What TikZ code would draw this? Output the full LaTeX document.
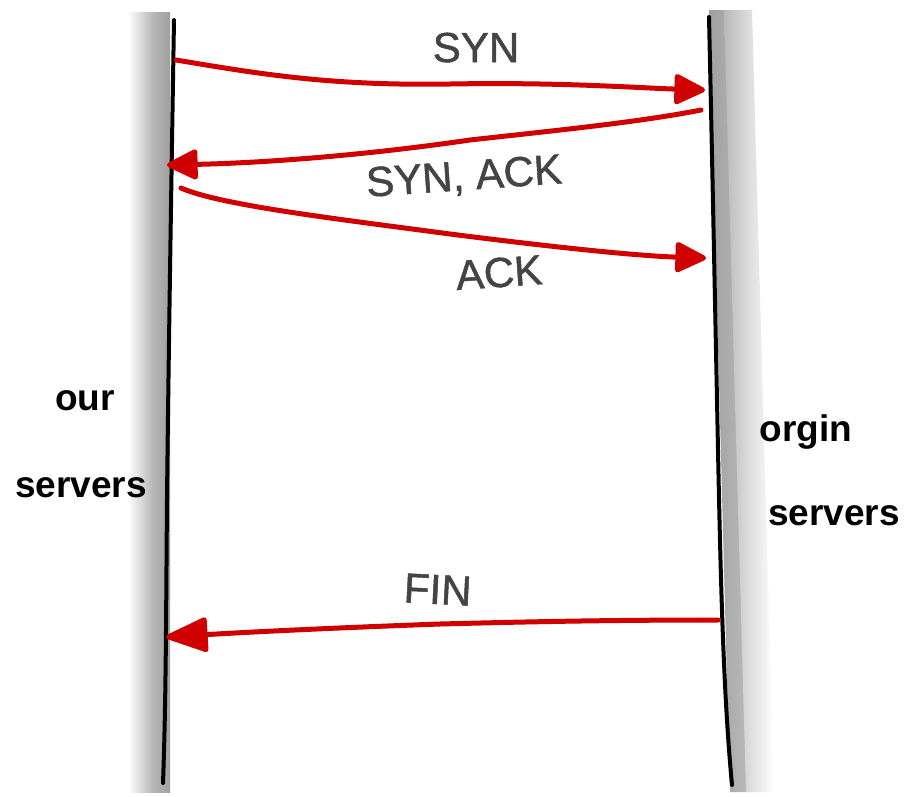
\documentclass[tikz,border=0pt]{standalone}
\usepackage{fontspec}
\setmainfont{Liberation Sans}
\usetikzlibrary{arrows.meta}
\definecolor{msgred}{HTML}{D00000}
\definecolor{lblgray}{HTML}{444444}
\tikzset{
  lifeline/.style={line width=4pt, black, line cap=round, line join=round},
  msg/.style={line width=5pt, msgred, line cap=round,
    -{Triangle[length=34pt,width=32pt,round]}},
  bigtip/.style={-{Triangle[length=46pt,width=36pt,round]}},
  msglbl/.style={text=lblgray, font=\fontsize{42}{42}\selectfont\addfontfeature{FakeBold=1.2}, anchor=base, inner sep=0pt},
  sidelbl/.style={text=black, font=\fontsize{37}{37}\selectfont\bfseries, anchor=base, inner sep=0pt}
}
\begin{document}
\begin{tikzpicture}[x=1pt,y=-1pt]
\useasboundingbox (0,0) rectangle (916,796);
\fill[white] (0,0) rectangle (916,796);
% shadows of the lifelines
\shade[left color=white, right color=gray!55] (128,12) rectangle (152,792);
\shade[left color=gray!55, right color=gray!75] (152,12) rectangle (170,792);
\shade[left color=gray!75, right color=gray!55] (709,10) -- (726,10) -- (748,792) -- (730,792) -- cycle;
\shade[left color=gray!55, right color=white] (724,10) -- (752,10) -- (774,792) -- (746,792) -- cycle;
% lifelines
\coordinate (Ltop) at (174,20);
\coordinate (Lbot) at (163,783);
\coordinate (Rtop) at (709,17);
\coordinate (Rbot) at (732,785);
\draw[lifeline] (Ltop) .. controls (171,200) and (168,400) .. (167,500) .. controls (166,620) and (166,700) .. (Lbot);
\draw[lifeline] (Rtop) .. controls (712,150) and (716,350) .. (718,450) .. controls (721,600) and (724,700) .. (Rbot);
% message endpoints
\coordinate (s1) at (176,60);
\coordinate (e1) at (705,90);
\coordinate (s2) at (701,110);
\coordinate (e2) at (167,165);
\coordinate (s3) at (181,188);
\coordinate (e3) at (706,258);
\coordinate (s4) at (718,620);
\coordinate (e4) at (166,637);
% messages
\draw[msg] (s1) .. controls (260,74) and (330,86) .. (450,84) .. controls (560,82) and (640,88) .. (e1);
\draw[msg] (s2) .. controls (640,122) and (560,130) .. (470,140) .. controls (360,156) and (260,163) .. (e2);
\draw[msg] (s3) .. controls (220,205) and (330,218) .. (450,234) .. controls (560,248) and (640,256) .. (e3);
\draw[msg, bigtip] (s4) .. controls (600,620) and (520,622) .. (440,624) .. controls (330,628) and (250,632) .. (e4);
% labels
\node[msglbl] (syn) at (476,62) {SYN};
\node[msglbl, rotate=4] (synack) at (465,190) {SYN, ACK};
\node[msglbl, rotate=4] (ack) at (500,287) {ACK};
\node[msglbl, rotate=-3] (fin) at (437,604) {FIN};
\node[sidelbl] (our) at (85,410) {our};
\node[sidelbl] (oursrv) at (81,497) {servers};
\node[sidelbl] (orgin) at (806,441) {orgin};
\node[sidelbl] (orgsrv) at (834,525) {servers};
\end{tikzpicture}
\end{document}
